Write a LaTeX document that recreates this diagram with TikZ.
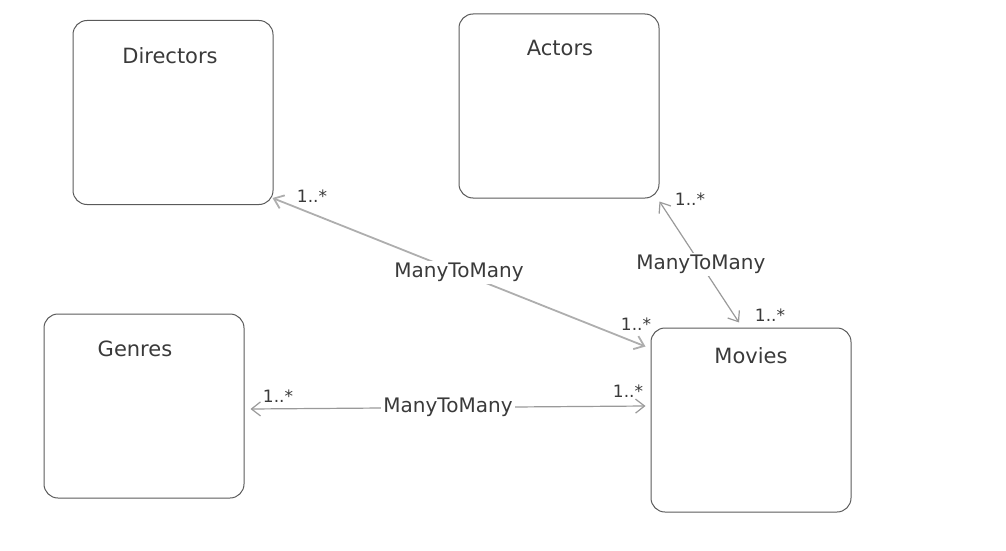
\documentclass[tikz,border=0pt]{standalone}
\usepackage{fontspec}
\setmainfont{DejaVu Sans}
\usepackage{tikz}
\usetikzlibrary{positioning,calc,arrows.meta}
\definecolor{boxline}{HTML}{5A5A5A}
\definecolor{darktext}{HTML}{3A3A3A}
\definecolor{linkgray}{HTML}{9A9A9A}

\begin{document}
\begin{tikzpicture}[x=1pt,y=-1pt,
  entity/.style={rectangle, draw=boxline, line width=1pt, rounded corners=14pt,
    minimum width=200pt, minimum height=184pt, inner sep=0pt},
  title/.style={font=\fontsize{21}{24}\selectfont, text=darktext, inner sep=0pt},
  rel/.style={fill=white, font=\fontsize{20}{24}\selectfont, text=darktext, inner sep=2pt},
  mult/.style={font=\fontsize{17}{20}\selectfont, text=darktext, inner sep=0pt},
  arr/.style={{Straight Barb[length=9pt,width=14pt]}-{Straight Barb[length=9pt,width=14pt]},
    line width=1.2pt, color=linkgray}
]
\useasboundingbox (0,0) rectangle (1006,551);
\node[entity] (dir) at (173,112.5) {};
\node[entity] (act) at (559,106) {};
\node[entity] (gen) at (144,406) {};
\node[entity] (mov) at (751,420) {};
\node[title] (dirt) at (170,56) {Directors};
\node[title] (actt) at (560,48) {Actors};
\node[title] (gent) at (135,349) {Genres};
\node[title] (movt) at (751,356) {Movies};
\draw[arr,line width=1.8pt,color=linkgray!80] ([xshift=-1pt,yshift=7pt]dir.south east) -- ([xshift=-5pt,yshift=-19pt]mov.north west)
  node[rel,pos=0.5]{ManyToMany};
\draw[arr] ([yshift=-3pt]act.south east) -- ([xshift=-12pt,yshift=5pt]mov.north)
  node[rel,pos=0.52]{ManyToMany};
\draw[arr] ([xshift=6pt,yshift=-3pt]gen.east) -- ([xshift=-5pt,yshift=14pt]mov.west)
  node[rel,pos=0.5]{ManyToMany};
\node[mult] (m1) at (312,196) {1..*};
\node[mult] (m2) at (636,324) {1..*};
\node[mult] (m3) at (690,199) {1..*};
\node[mult] (m4) at (770,315) {1..*};
\node[mult] (m5) at (278,396) {1..*};
\node[mult] (m6) at (628,391) {1..*};
\end{tikzpicture}
\end{document}
